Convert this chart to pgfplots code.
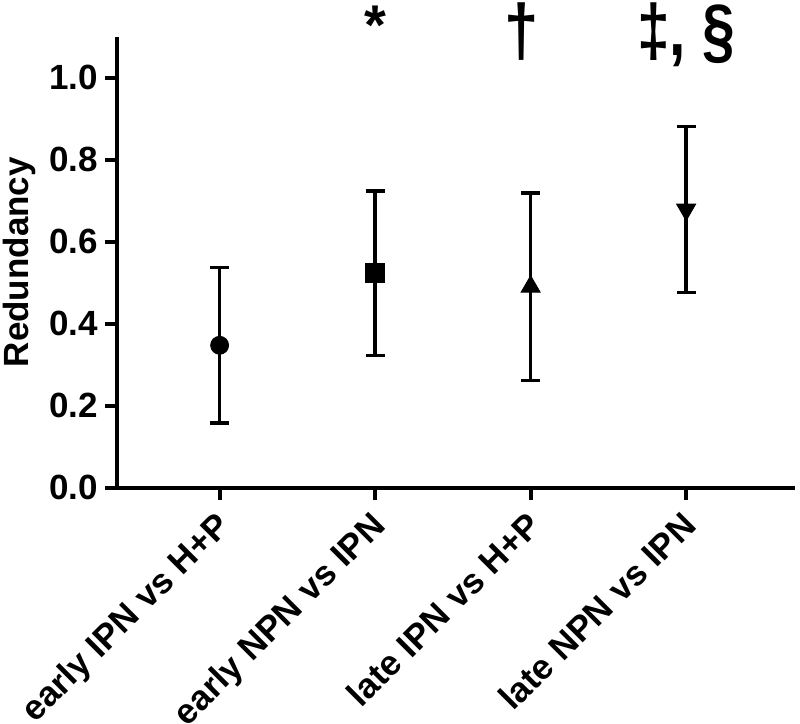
\documentclass[border=0pt]{standalone}
\usepackage{fontspec}
\setmainfont{Liberation Sans}
\usepackage{pgfplots}
\pgfplotsset{compat=1.18}
\begin{document}
\begin{tikzpicture}
\begin{axis}[
  name=ax,
  scale only axis,
  width=339pt, height=225.4pt,
  xmin=-0.66, xmax=3.70, ymin=0, ymax=1.1,
  axis x line=bottom, axis y line=left,
  axis line style={-, line width=2pt},
  every tick/.style={black, line width=2pt},
  tick align=outside,
  major tick length=6pt,
  xtick={0,1,2,3},
  xticklabels={early IPN vs H+P, early NPN vs IPN, late IPN vs H+P, late NPN vs IPN},
  ytick={0,0.2,0.4,0.6,0.8,1.0},
  yticklabel style={/pgf/number format/.cd, fixed, fixed zerofill, precision=1, assume math mode=true},
  tick label style={font=\fontsize{17.5}{20}\selectfont\bfseries},
  x tick label style={xshift=-3pt, yshift=-2pt, rotate=45, anchor=north east, inner sep=2pt},
  clip=false,
  error bars/y dir=both,
  error bars/y explicit,
  error bars/error bar style={line width=1.8pt, black},
  error bars/error mark options={black, rotate=90, mark size=4.75pt, line width=1.8pt},
]
\addplot[only marks, black, mark=*, mark size=4.5pt] coordinates {(0,0.347) +- (0,0.190)};
\addplot[only marks, black, mark=square*, mark size=4.7pt] coordinates {(1,0.523) +- (0,0.201)};
\addplot[only marks, black, mark=triangle*, mark size=5.5pt] coordinates {(2,0.490) +- (0,0.229)};
\addplot[only marks, black, mark=triangle*, mark size=5.5pt, mark options={rotate=180}] coordinates {(3,0.678) +- (0,0.2025)};
\node[font=\fontsize{28}{30}\selectfont\bfseries, anchor=base] at (axis cs:1,1.081) {*};
\node[font=\fontsize{28}{30}\selectfont\bfseries, anchor=base, xshift=-4.5pt, yscale=1.3, xscale=1.1] at (axis cs:2,1.054) {†};
\node[font=\fontsize{28}{30}\selectfont\bfseries, anchor=base, yscale=1.3, xscale=1.05] at (axis cs:3,1.054) {‡, §};
\end{axis}
\node[rotate=90, font=\fontsize{17.5}{20}\selectfont\bfseries] at ([xshift=-48.75pt]ax.west) {Redundancy};
\pgfresetboundingbox
\path[use as bounding box] ([xshift=-58.5pt,yshift=-118.25pt]ax.south west) rectangle ([xshift=2.5pt,yshift=18.35pt]ax.north east);
\end{tikzpicture}
\end{document}
